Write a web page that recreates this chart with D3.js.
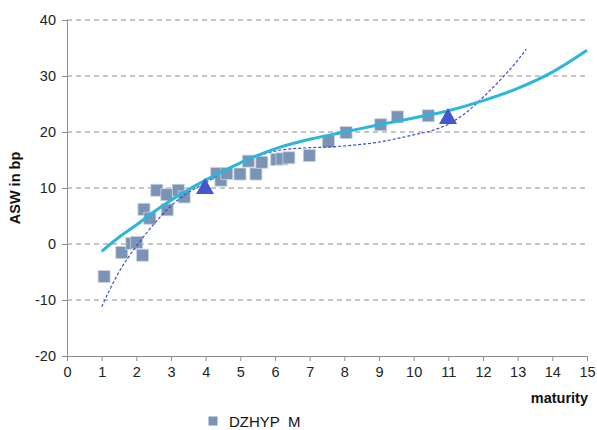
<!doctype html>
<html>
<head>
  <meta charset="utf8"/>
  <style>
    body { margin: 0; background: #fff; }
    text { font-family: "Liberation Sans", Arial, sans-serif; }
  </style>
</head>
<body>
  <svg width='597' height='430'></svg>
  <script src="https://d3js.org/d3.v7.min.js"></script>
  <script>

    // bond spreads (squares)
    var bondMaturity = [1.07, 1.58, 1.87, 2.01, 2.18, 2.22, 2.39, 2.59, 2.88, 2.89, 3.21, 3.38,
                        4.32, 4.44, 4.61, 4.99, 5.23, 5.45, 5.62, 6.05, 6.2, 6.4, 6.99, 7.54,
                        8.05, 9.05, 9.53, 10.42];
    var bondAsw = [-5.8, -1.5, 0.1, 0.3, -2.0, 6.2, 4.6, 9.6, 8.8, 6.1, 9.6, 8.4,
                   12.6, 11.4, 12.6, 12.5, 14.8, 12.5, 14.6, 15.1, 15.2, 15.4, 15.8, 18.3,
                   19.9, 21.3, 22.7, 22.9];

    // highlighted points (triangles)
    var triMaturity = [3.98, 10.99];
    var triAsw = [10.2, 22.7];

    // fitted curve (solid)
    var fitMaturity = [1, 1.5, 2, 2.5, 3, 3.5, 4, 4.5, 5, 6, 7, 8, 9, 10, 11, 12, 13, 14, 15];
    var fitAsw = [-1.3, 1.2, 3.4, 5.7, 7.8, 9.7, 11.4, 13.0, 14.5, 17.0, 18.7, 20.0, 21.3, 22.5,
                  23.8, 25.6, 27.8, 30.7, 34.6];

    // second fitted curve (dashed)
    var fit2Maturity = [1, 1.5, 2, 2.5, 3, 3.5, 4, 4.5, 5, 5.5, 6, 6.5, 7, 7.5, 8, 8.5, 9, 9.5,
                        10, 10.5, 11, 11.5, 12, 12.5, 13, 13.25];
    var fit2Asw = [-11.2, -5.0, -0.4, 3.5, 6.8, 9.2, 10.9, 12.9, 14.5, 15.7, 16.6, 17.0, 17.2,
                   17.3, 17.5, 17.8, 18.2, 18.8, 19.5, 20.2, 21.4, 23.4, 26.2, 29.3, 32.8, 34.8];

    var xTicks = d3.range(0, 16, 1);
    var yTicks = [-20, -10, 0, 10, 20, 30, 40];

    var svg = d3.select('svg'),
        margin = {top: 20, right: 10, bottom: 74, left: 67},
        width = +svg.attr('width') - margin.left - margin.right,
        height = +svg.attr('height') - margin.top - margin.bottom,
        g = svg.append('g').attr('transform',
                                 'translate(' + margin.left + ',' + margin.top + ')');

    var x = d3.scaleLinear().domain([0, 15]).range([0, width]);
    var y = d3.scaleLinear().domain([-20, 40]).range([height, 0]);

    // gridlines
    g.append('g')
      .selectAll('line')
      .data(yTicks.filter(function(d) { return d > -20; }))
      .join('line')
        .attr('x1', 0).attr('x2', width)
        .attr('y1', function(d) { return y(d); })
        .attr('y2', function(d) { return y(d); })
        .attr('stroke', '#8c8c8c')
        .attr('stroke-width', 1)
        .attr('stroke-dasharray', '5,4');

    var plain = function(d) { return String(d); };
    var xAxis = g.append('g')
      .attr('transform', 'translate(0,' + height + ')')
      .call(d3.axisBottom(x).tickValues(xTicks).tickFormat(plain).tickSize(5).tickPadding(6));
    var yAxis = g.append('g')
      .call(d3.axisLeft(y).tickValues(yTicks).tickFormat(plain).tickSize(5).tickPadding(6));

    [xAxis, yAxis].forEach(function(a) {
      a.selectAll('path, line').attr('stroke', '#8c8c8c');
      a.selectAll('text')
        .attr('fill', '#222')
        .style('font-family', '"Liberation Sans", Arial, sans-serif')
        .style('font-size', '14.5px');
    });

    g.append('text')
      .attr('transform', 'rotate(-90)')
      .attr('x', -height / 2 + 0)
      .attr('y', -47)
      .attr('text-anchor', 'middle')
      .style('font-size', '14.5px')
      .style('font-weight', 'bold')
      .attr('fill', '#111')
      .text('ASW in bp');

    g.append('text')
      .attr('x', width + 1)
      .attr('y', height + 47)
      .attr('text-anchor', 'end')
      .style('font-size', '14.5px')
      .style('font-weight', 'bold')
      .attr('fill', '#111')
      .text('maturity');

    // squares
    var sq = 12;
    g.append('g')
      .selectAll('rect')
      .data(d3.zip(bondMaturity, bondAsw))
      .join('rect')
        .attr('x', function(d) { return x(d[0]) - sq / 2; })
        .attr('y', function(d) { return y(d[1]) - sq / 2; })
        .attr('width', sq).attr('height', sq)
        .attr('fill', '#7b93b5')
        .attr('stroke', '#c9d3e0')
        .attr('stroke-width', 0.8);

    var line = d3.line()
      .x(function(d) { return x(d[0]); })
      .y(function(d) { return y(d[1]); })
      .curve(d3.curveMonotoneX);

    g.append('path')
      .datum(d3.zip(fit2Maturity, fit2Asw))
      .attr('fill', 'none')
      .attr('stroke', '#3d50cf')
      .attr('stroke-width', 1.2)
      .attr('stroke-dasharray', '3,2')
      .attr('d', line);

    g.append('path')
      .datum(d3.zip(fitMaturity, fitAsw))
      .attr('fill', 'none')
      .attr('stroke', '#2ab7d9')
      .attr('stroke-width', 3)
      .attr('stroke-linejoin', 'round')
      .attr('d', line);

    // triangles
    g.append('g')
      .selectAll('path')
      .data(d3.zip(triMaturity, triAsw))
      .join('path')
        .attr('transform', function(d) {
          return 'translate(' + x(d[0]) + ',' + y(d[1]) + ')';
        })
        .attr('d', 'M0,-9L9,7L-9,7Z')
        .attr('fill', '#4656cc');

    // legend
    var lg = svg.append('g').attr('transform', 'translate(213,421)');
    lg.append('rect')
      .attr('x', -4.5).attr('y', -4.5).attr('width', 9).attr('height', 9)
      .attr('fill', '#7b93b5');
    lg.append('text')
      .attr('x', 16).attr('y', 5.5)
      .attr('xml:space', 'preserve')
      .style('white-space', 'pre')
      .style('font-size', '15px')
      .attr('fill', '#111')
      .text('DZHYP  M');
  </script>
</body>
</html>
